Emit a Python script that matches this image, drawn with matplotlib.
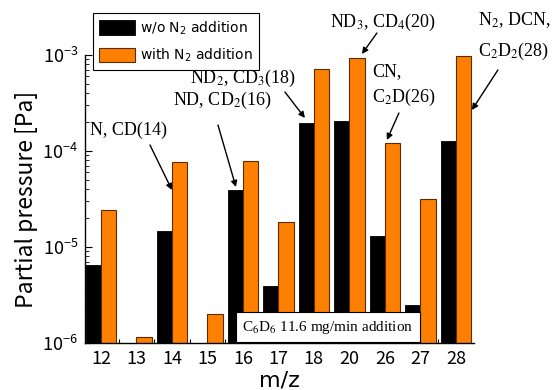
import numpy as np
import matplotlib
matplotlib.use("Agg")
import matplotlib.pyplot as plt

# ---- data ----
categories = ["12", "13", "14", "15", "16", "17", "18", "20", "26", "27", "28"]
without_n2 = [6.5e-6, np.nan, 1.48e-5, np.nan, 3.9e-5, 3.9e-6, 1.94e-4, 2.03e-4, 1.3e-5, 2.5e-6, 1.26e-4]
with_n2 = [2.4e-5, 1.15e-6, 7.7e-5, 2.0e-6, 7.9e-5, 1.8e-5, 7.1e-4, 9.4e-4, 1.2e-4, 3.2e-5, 9.7e-4]
series_labels = ["w/o N$_2$ addition", "with N$_2$ addition"]
box_text = "C$_6$D$_6$ 11.6 mg/min addition"

SANS = "Noto Sans CJK JP"
SERIF = "Liberation Serif"

fig = plt.figure(figsize=(5.54, 3.90), dpi=100)
ax = fig.add_axes([85/554, 47/390, (474-85)/554, (343-55)/390])

x = np.arange(len(categories))
w = 0.43
ax.bar(x - w/2, without_n2, w, color="black", edgecolor="black", linewidth=0.6,
       label=series_labels[0], zorder=2)
ax.bar(x + w/2, with_n2, w, color="#FF8000", edgecolor="#5a2d00", linewidth=0.8,
       label=series_labels[1], zorder=2)

ax.set_yscale("log")
ax.set_ylim(1e-6, 1e-3)
ax.set_xlim(-0.45, 10.51)

for s in ["top", "right"]:
    ax.spines[s].set_visible(False)
ax.spines["left"].set_linewidth(1.0)
ax.spines["bottom"].set_linewidth(1.0)

ax.set_xticks(x)
ax.set_xticklabels(categories, family=SANS, fontsize=13)
ax.set_xticks(x[:-1] + 0.5, minor=True)
ax.tick_params(axis="x", which="major", length=0, pad=5)
ax.tick_params(axis="x", which="minor", direction="in", length=3, width=0.8)
ax.tick_params(axis="y", which="major", direction="in", length=5, width=0.8, labelsize=13, pad=5)
ax.tick_params(axis="y", which="minor", direction="in", length=3, width=0.6)
for lab in ax.get_yticklabels():
    lab.set_family(SANS)

ax.set_ylabel("Partial pressure [Pa]", family=SANS, fontsize=16.5, labelpad=3)
fig.text(279 / 554, 1 - 387 / 390, "m/z", family="DejaVu Sans", fontsize=16,
         ha="center", va="baseline")

leg = fig.legend(loc="upper left", bbox_to_anchor=(93/554, 1 - 13/390),
                 borderaxespad=0, fancybox=False, framealpha=1, edgecolor="black",
                 prop=dict(family="DejaVu Sans", size=10), handlelength=2.55,
                 handleheight=1.2, labelspacing=0.7, handletextpad=0.4, borderpad=0.45)
leg.get_frame().set_linewidth(0.8)


def px2data(px, py):
    return (px - 101) / 35.5, 10 ** (-3 - (py - 55) / 96)


def label(px, py, s, ha="left"):
    ax.text(*px2data(px, py), s, family=SERIF, fontsize=13, ha=ha, va="center",
            math_fontfamily="stix", clip_on=False, zorder=5)


def arrow(p0, p1):
    ax.annotate("", xy=px2data(*p1), xytext=px2data(*p0),
                arrowprops=dict(arrowstyle="-|>", color="black", lw=1.0,
                                mutation_scale=9, shrinkA=0, shrinkB=0),
                annotation_clip=False, zorder=5)


label(90, 130, "N, CD(14)")
arrow((150, 145), (172, 190))
label(173, 100, "ND, CD$_2$(16)")
arrow((218, 125), (236, 187))
label(190, 78, "ND$_2$, CD$_3$(18)")
arrow((285, 92), (305, 118))
label(330, 22, "ND$_3$, CD$_4$(20)")
arrow((377, 33), (362, 54))
label(372, 72, "CN,")
label(372, 97, "C$_2$D(26)")
arrow((399, 113), (387, 140))
label(478, 20, "N$_2$, DCN,")
label(478, 51, "C$_2$D$_2$(28)")
arrow((498, 70), (472, 110))

ax.text((328 - 85) / 389, (343 - 327) / 288, box_text, transform=ax.transAxes,
        family=SERIF, fontsize=11, ha="center", va="center", math_fontfamily="stix",
        bbox=dict(boxstyle="square,pad=0.45", facecolor="white", edgecolor="black", linewidth=0.8),
        zorder=6)

fig.savefig("out.png", dpi=100)
